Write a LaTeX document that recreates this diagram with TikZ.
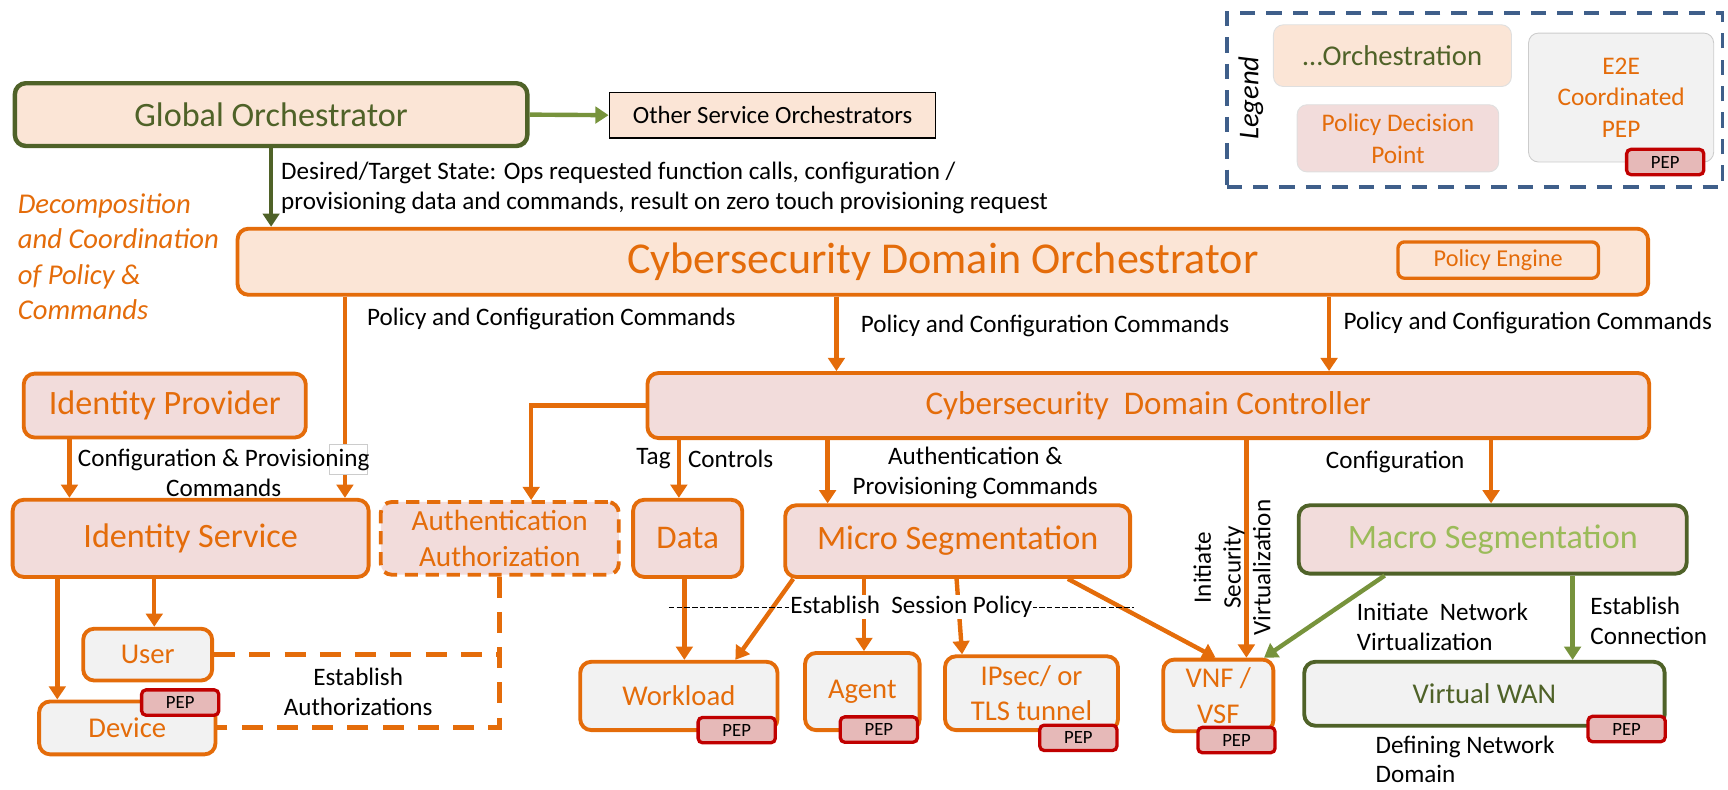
\documentclass[tikz,border=0pt]{standalone}
\usepackage{fontspec}
\setmainfont{Carlito}
\usetikzlibrary{arrows.meta,calc}
\definecolor{orng}{HTML}{E46C0A}
\definecolor{peach}{HTML}{FBE5D6}
\definecolor{pinkf}{HTML}{F2DCDB}
\definecolor{grayf}{HTML}{F2F2F2}
\definecolor{dgreen}{HTML}{4F6228}
\definecolor{lgreen}{HTML}{9BBB59}
\definecolor{agreen}{HTML}{77933C}
\definecolor{pepred}{HTML}{C00000}
\definecolor{pepfill}{HTML}{E6B9B8}
\definecolor{legblue}{HTML}{3F5F8A}
\newcommand\fz[2]{\fontsize{#1}{#2}\selectfont}
\tikzset{
  bx/.style={rounded corners=10pt, line width=3.5pt, inner sep=2pt, align=center},
  orchbox/.style={bx, draw=orng, fill=peach, text=orng},
  pdpbox/.style={bx, draw=orng, fill=pinkf, text=orng},
  enfbox/.style={bx, draw=orng, fill=grayf, text=orng},
  peptag/.style={draw=pepred, fill=pepfill, line width=3pt, rounded corners=4pt, minimum width=70pt, minimum height=23pt, inner sep=0pt, font=\fz{17}{20}, text=black},
  oarr/.style={draw=orng, line width=4pt, -{Triangle[length=12pt,width=15pt]}},
  garr/.style={draw=agreen, line width=4pt, -{Triangle[length=12pt,width=15pt]}},
  darr/.style={draw=dgreen, line width=4pt, -{Triangle[length=12pt,width=15pt]}},
  adash/.style={draw=orng, line width=4.5pt, dash pattern=on 19pt off 13pt},
  lbl/.style={font=\fz{22.8}{27}, text=black, inner sep=0pt, align=center},
  legbox/.style={draw=legblue, line width=3.5pt, dash pattern=on 14pt off 10pt},
  legitem/.style={line width=0.8pt, rounded corners=9pt, align=center, inner sep=0pt},
}
\begin{document}
\begin{tikzpicture}[x=1pt,y=-1pt]
\useasboundingbox (0,0) rectangle (1568,716);

% ---------------- legend
\node[legbox, minimum width=450pt, minimum height=158pt] (LG) at (1338,91) {};
\node[rotate=90, font=\itshape\fz{26}{30}] (LGt) at (1135,89) {Legend};
\node[legitem, fill=peach, draw=gray!25, minimum width=216pt, minimum height=56pt, text=dgreen, font=\fz{26}{30}] (LO) at (1263.5,50.5) {…Orchestration};
\node[legitem, fill=pinkf, draw=gray!25, minimum width=183pt, minimum height=61pt, text=orng, font=\fz{23}{29}] (LP) at (1268.5,125.5) {Policy Decision\\Point};
\node[legitem, fill=grayf, draw=gray!40, minimum width=168pt, minimum height=117pt, text=orng, font=\fz{23}{28.5}] (LE) at (1471,88.5) {E2E\\Coordinated\\PEP};
\node[peptag] (LEp) at (1511,147) {PEP};

% ---------------- orchestrators
\node[orchbox, draw=dgreen, line width=4pt, text=dgreen, minimum width=465pt, minimum height=57pt, font=\fz{31}{37}] (GO) at (246,104) {Global Orchestrator};
\node[draw=black, line width=1.5pt, fill=peach, minimum width=296pt, minimum height=41pt, inner sep=0pt, font=\fz{22.5}{26}] (OSO) at (701,104.5) {Other Service Orchestrators};
\node[orchbox, minimum width=1280pt, minimum height=60pt, font=\fz{40}{46}] (CDO) at (855.5,237.5) {Cybersecurity Domain Orchestrator};
\node[orchbox, rounded corners=6pt, line width=3pt, minimum width=182pt, minimum height=33pt, font=\fz{22}{26}] (PE) at (1359.5,236) {Policy Engine};

\draw[garr] (GO.east) -- (OSO.west);
\draw[darr] (GO.south) -- (GO.south |- CDO.north);

\node[lbl, align=left, anchor=west] (desired) at (255,170.5) {Desired/Target State: Ops requested function calls, configuration /\\provisioning data and commands, result on zero touch provisioning request};
\node[lbl, align=left, anchor=west, text=orng, font=\itshape\fz{26}{32}] (decomp) at (16,233) {Decomposition\\and Coordination\\of Policy \&\\Commands};

% ---------------- second level
\node[pdpbox, minimum width=909pt, minimum height=59pt, font=\fz{30}{36}] (CDC) at (1042,368) {Cybersecurity~ Domain Controller};
\node[pdpbox, minimum width=256pt, minimum height=58pt, font=\fz{31}{37}] (IdP) at (149.5,368) {Identity Provider};

% ---------------- third level
\node[pdpbox, minimum width=323pt, minimum height=70pt, font=\fz{31}{37}] (IS) at (173,488.5) {Identity Service};
\node[pdpbox, dash pattern=on 12pt off 7pt, minimum width=216pt, minimum height=66pt, font=\fz{26.5}{33}] (Auth) at (453.5,488.5) {Authentication\\Authorization};
\node[pdpbox, minimum width=99pt, minimum height=70pt, font=\fz{30}{36}] (Data) at (624,488.5) {Data};
\node[pdpbox, minimum width=313pt, minimum height=65pt, font=\fz{31}{37}] (MS) at (869,491) {Micro Segmentation};
\node[pdpbox, draw=dgreen, text=lgreen, minimum width=352pt, minimum height=62pt, font=\fz{31}{37}] (Macro) at (1354.5,489.5) {Macro Segmentation};

% ---------------- enforcement points
\node[enfbox, minimum width=117pt, minimum height=47pt, font=\fz{26}{31}] (User) at (134,594) {User};
\node[enfbox, minimum width=160pt, minimum height=48pt, font=\fz{26}{31}] (Device) at (115.5,660.5) {Device};
\node[enfbox, minimum width=179pt, minimum height=62pt, font=\fz{26}{31}] (Work) at (616,631.5) {Workload};
\node[enfbox, minimum width=104pt, minimum height=70pt, font=\fz{26}{31}] (Agent) at (782.5,627.5) {Agent};
\node[enfbox, minimum width=157pt, minimum height=67pt, font=\fz{26}{31}] (IPsec) at (936,629) {IPsec/ or\\TLS tunnel};
\node[enfbox, minimum width=100pt, minimum height=65pt, font=\fz{26}{33}] (VNF) at (1105.5,631) {VNF /\\VSF};
\node[enfbox, draw=dgreen, text=dgreen, minimum width=327pt, minimum height=58pt, font=\fz{26}{31}] (VWAN) at (1347,629.5) {Virtual WAN};

% ---------------- connectors
\coordinate (xa) at (313,0);
\coordinate (xb) at (759,0);
\coordinate (xc) at (1206,0);
\coordinate (xd) at (63,0);
\coordinate (xe) at (482,0);
\coordinate (xf) at (616,0);
\coordinate (xg) at (751,0);
\coordinate (xh) at (1131,0);
\coordinate (xi) at (1353,0);
\coordinate (xj) at (52,0);
\coordinate (xk) at (140,0);
\coordinate (xl) at (621,0);
\coordinate (xm) at (784,0);
\coordinate (xn) at (1427,0);
\coordinate (xo) at (453,0);

\draw[oarr] (xa |- CDO.south) -- (xa |- IS.north);
\draw[oarr] (xb |- CDO.south) -- (xb |- CDC.north);
\draw[oarr] (xc |- CDO.south) -- (xc |- CDC.north);
\draw[oarr] (xd |- IdP.south) -- (xd |- IS.north);
\draw[oarr] (CDC.west) -| (xe |- Auth.north);
\draw[oarr] (xf |- CDC.south) -- (xf |- Data.north);
\draw[oarr] (xg |- CDC.south) -- (xg |- MS.north);
\draw[oarr] (xh |- CDC.south) -- (xh |- VNF.north);
\draw[oarr] (xi |- CDC.south) -- (xi |- Macro.north);
\draw[oarr] (xj |- IS.south) -- (xj |- Device.north);
\draw[oarr] (xk |- IS.south) -- (xk |- User.north);
\draw[oarr] (xl |- Data.south) -- (xl |- Work.north);
\draw[oarr] ($(MS.south west)+(9,0)$) -- ($(Work.north east)+(-40,0)$);
\draw[oarr] (xm |- MS.south) -- (xm |- Agent.north);
\draw[oarr] ($(MS.south)+(-1,0)$) -- ($(IPsec.north)+(-63,0)$);
\draw[oarr] ($(MS.south)+(100,0)$) -- ($(VNF.north)+(-2.5,0)$);
\draw[garr] ($(Macro.south)+(-98,0)$) -- ($(VNF.north)+(41.5,0)$);
\draw[garr] (xn |- Macro.south) -- (xn |- VWAN.north);

\draw[adash] (xo |- Auth.south) -- (xo |- Device.east) -- (Device.east);
\draw[adash] (User.east) -- (xo |- User.east);

% PEP tags
\node[peptag] (pDev) at (163.5,637.5) {PEP};
\node[peptag] (pWork) at (668.5,662.5) {PEP};
\node[peptag] (pAgent) at (797.5,662) {PEP};
\node[peptag] (pIPsec) at (978.5,669.5) {PEP};
\node[peptag] (pVNF) at (1122,671.5) {PEP};
\node[peptag] (pVWAN) at (1476,661.5) {PEP};

% session policy line
\coordinate (sp1) at (607,551);
\coordinate (sp2) at (1029,551);
\draw[black, line width=0.8pt, dash pattern=on 5pt off 2pt] (sp1) -- (sp2);
\node[lbl, fill=white, inner sep=1pt] (sess) at (827,551) {Establish~ Session Policy};

% ---------------- labels
\draw[gray!40, line width=0.6pt, fill=white] (299,403) rectangle (333,430);
\node[lbl] (l1) at (203,429) {Configuration \& Provisioning\\Commands};
\node[lbl, anchor=west] (l2) at (333,289) {Policy and Configuration Commands};
\node[lbl, anchor=west] (l3) at (781,296) {Policy and Configuration Commands};
\node[lbl, anchor=west] (l4) at (1219,293) {Policy and Configuration Commands};
\node[lbl] (l5) at (593,416) {Tag};
\node[lbl] (l6) at (663,416) {Controls};
\node[lbl] (l7) at (885,429) {Authentication \&\\Provisioning Commands};
\node[lbl] (l8) at (1266,419) {Configuration};
\node[lbl, rotate=90] (l9) at (1118,515) {Initiate\\Security\\Virtualization};
\node[lbl, align=left, anchor=west] (l10) at (1231,569) {Initiate~ Network\\Virtualization};
\node[lbl, align=left, anchor=west] (l11) at (1443,563.5) {Establish\\Connection};
\node[lbl, align=left, anchor=west] (l12) at (1248,689) {Defining Network\\Domain};
\node[lbl] (l13) at (325,627.5) {Establish\\Authorizations};
\end{tikzpicture}
\end{document}
